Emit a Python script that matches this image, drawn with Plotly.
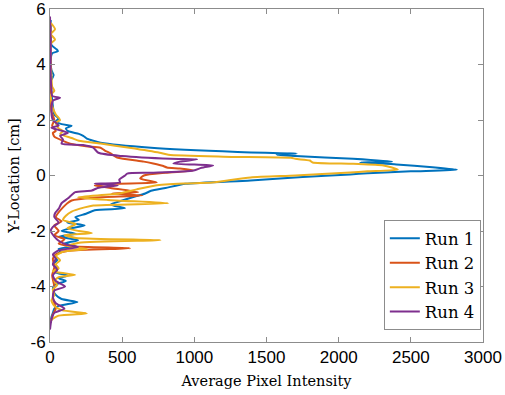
import plotly.graph_objects as go

# Run 1 (blue)
run1_y = [5.6, 5.0, 4.7, 4.55, 4.48, 4.4, 4.2, 3.8, 3.62, 3.55, 3.4, 3.0, 2.5, 2.2, 2.05, 1.95, 1.85, 1.79, 1.7, 1.6,
          1.5, 1.43, 1.33, 1.25, 1.18, 1.0, 0.85, 0.79, 0.75, 0.7, 0.6, 0.5, 0.47, 0.4, 0.3, 0.21, 0.15, 0.08, 0.04, -0.05,
          -0.18, -0.3, -0.45, -0.55, -0.65, -0.8, -0.9, -1.05, -1.18, -1.25, -1.38, -1.5, -1.6, -1.7, -1.8, -1.9, -2.0, -2.1, -2.2, -2.33,
          -2.45, -2.55, -2.65, -2.75, -2.9, -3.05, -3.2, -3.35, -3.5, -3.6, -3.7, -3.8, -3.95, -4.1, -4.3, -4.45, -4.56, -4.7, -4.8, -4.95,
          -5.1, -5.3]
run1_x = [5, 5, 10, 45, 55, 15, 5, 10, 25, 20, 5, 10, 20, 30, 60, 40, 80, 150, 110, 125,
          200, 230, 255, 300, 350, 700, 1300, 1710, 1570, 1700, 2100, 2370, 2150, 2400, 2650, 2820, 2500, 2200, 2080, 1750,
          1390, 940, 800, 700, 660, 560, 500, 420, 520, 310, 250, 175, 200, 120, 240, 140, 80, 180, 60, 195,
          100, 180, 60, 70, 30, 50, 20, 55, 40, 125, 60, 110, 30, 20, 40, 80, 190, 60, 30, 20,
          10, 5]

# Run 2 (orange)
run2_y = [5.5, 4.5, 3.5, 2.8, 2.3, 2.0, 1.8, 1.6, 1.54, 1.4, 1.25, 1.15, 1.05, 1.0, 0.9, 0.8, 0.65, 0.5, 0.43, 0.35,
          0.29, 0.25, 0.18, 0.1, 0.0, -0.11, -0.25, -0.3, -0.36, -0.45, -0.6, -0.65, -0.72, -0.8, -0.9, -1.0, -1.15, -1.36, -1.5, -1.65,
          -1.8, -2.0, -2.15, -2.3, -2.45, -2.55, -2.62, -2.72, -2.85, -3.0, -3.3, -3.6, -4.0, -4.4, -4.8, -5.0, -5.3]
run2_x = [3, 3, 3, 5, 10, 30, 15, 40, 20, 30, 90, 140, 250, 350, 380, 420, 465, 650, 715, 780,
          810, 900, 995, 800, 650, 625, 740, 450, 310, 420, 610, 430, 640, 300, 150, 120, 90, 55, 40, 80,
          30, 60, 30, 100, 60, 150, 555, 120, 40, 20, 30, 15, 30, 20, 40, 20, 5]

# Run 3 (yellow)
run3_y = [5.5, 5.27, 5.1, 4.9, 4.75, 4.2, 3.6, 3.2, 3.05, 2.9, 2.5, 2.2, 2.0, 1.9, 1.7, 1.6, 1.5, 1.35, 1.25, 1.15,
          1.0, 0.82, 0.75, 0.68, 0.64, 0.6, 0.54, 0.47, 0.42, 0.36, 0.21, 0.15, 0.11, 0.0, -0.07, -0.25, -0.29, -0.36, -0.5, -0.65,
          -0.78, -0.88, -1.0, -1.08, -1.15, -1.3, -1.45, -1.6, -1.75, -1.9, -2.0, -2.08, -2.15, -2.25, -2.33, -2.42, -2.55, -2.65, -2.75, -2.9,
          -3.05, -3.2, -3.35, -3.45, -3.58, -3.66, -3.8, -3.95, -4.1, -4.3, -4.5, -4.7, -4.85, -4.97, -5.05, -5.2, -5.3]
run3_x = [5, 35, 5, 35, 5, 5, 10, 15, 30, 5, 15, 40, 70, 40, 60, 90, 70, 150, 200, 350,
          550, 760, 820, 1200, 1670, 1700, 1800, 1820, 2100, 2310, 2410, 2200, 2080, 1700, 1390, 1125, 925, 730, 600, 480,
          195, 400, 820, 300, 240, 150, 110, 90, 180, 120, 200, 290, 100, 180, 765, 200, 120, 260, 90, 40,
          70, 40, 60, 20, 175, 60, 30, 50, 20, 30, 10, 30, 80, 255, 60, 10, 5]

# Run 4 (purple)
run4_y = [5.73, 5.3, 4.8, 4.2, 3.6, 3.1, 2.87, 2.8, 2.7, 2.3, 2.0, 1.8, 1.72, 1.54, 1.43, 1.3, 1.15, 1.1, 1.0, 0.82,
          0.7, 0.6, 0.58, 0.5, 0.43, 0.36, 0.28, 0.18, 0.1, 0.07, 0.0, -0.15, -0.25, -0.3, -0.36, -0.45, -0.54, -0.6, -0.7, -0.82,
          -1.0, -1.2, -1.36, -1.5, -1.7, -1.85, -2.0, -2.2, -2.35, -2.5, -2.58, -2.7, -2.85, -3.0, -3.2, -3.4, -3.6, -3.8, -4.0, -4.15,
          -4.4, -4.6, -4.8, -4.95, -5.2, -5.55]
run4_x = [0, 2, 5, 5, 5, 10, 15, 70, 20, 10, 20, 60, 10, 125, 70, 90, 80, 230, 300, 335,
          500, 835, 1020, 900, 855, 1130, 1050, 995, 700, 535, 520, 480, 485, 310, 470, 330, 290, 175, 150, 125,
          80, 60, 35, 30, 60, 20, 5, 30, 60, 120, 195, 60, 20, 40, 20, 50, 20, 40, 105, 30,
          20, 40, 100, 30, 10, 0]

run_names = ["Run 1", "Run 2", "Run 3", "Run 4"]
run_colors = ["#0072BD", "#D95319", "#EDB120", "#7E2F8E"]
x_ticks = [0, 500, 1000, 1500, 2000, 2500, 3000]
y_ticks = [-6, -4, -2, 0, 2, 4, 6]
y_tick_labels = ["-6", "-4", "-2", "0", "2", "4", "6"]

series = [(run1_x, run1_y), (run2_x, run2_y), (run3_x, run3_y), (run4_x, run4_y)]

fig = go.Figure()
for (xs, ys), name, col in zip(series, run_names, run_colors):
    fig.add_trace(go.Scatter(x=xs, y=ys, mode="lines", name=name,
                             line=dict(color=col, width=2, shape="spline", smoothing=0.6)))

serif = "DejaVu Serif, Liberation Serif, serif"
axis_common = dict(showline=True, linecolor="#8c8c8c", linewidth=1, mirror="ticks",
                   ticks="inside", ticklen=5, tickcolor="#8c8c8c", showgrid=False, zeroline=False,
                   automargin=False, ticklabeloverflow="allow",
                   tickfont=dict(family="Liberation Sans, Arial, sans-serif", size=17, color="black"))

fig.update_layout(
    width=505, height=395,
    margin=dict(l=50, r=22, t=9, b=53),
    paper_bgcolor="white", plot_bgcolor="white",
    showlegend=True,
    legend=dict(x=0.995, y=0.036, xanchor="right", yanchor="bottom",
                bgcolor="white", bordercolor="#8c8c8c", borderwidth=1,
                font=dict(family=serif, size=16.5, color="black"),
                tracegroupgap=0),
    xaxis=dict(range=[0, 3000], tickvals=x_ticks,
               title=dict(text="Average Pixel Intensity", standoff=9,
                          font=dict(family=serif, size=14.5, color="black")),
               **axis_common),
    yaxis=dict(range=[-6, 6], tickvals=y_ticks, ticktext=y_tick_labels,
               title=dict(text="Y-Location [cm]", standoff=7,
                          font=dict(family=serif, size=14.5, color="black")),
               **axis_common),
)

fig.write_html("out.html", config={"displayModeBar": False},
               post_script="document.body.style.margin='0';")
